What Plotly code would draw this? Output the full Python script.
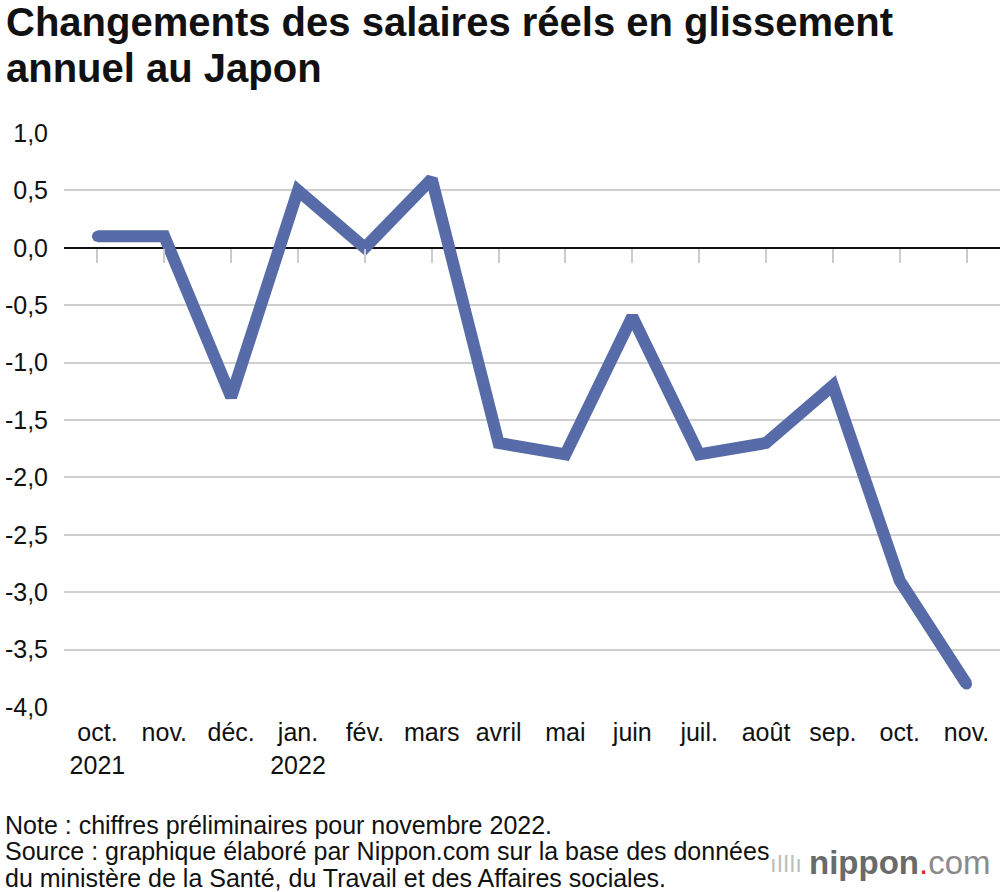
import plotly.graph_objects as go

months = ["oct.<br>2021", "nov.", "déc.", "jan.<br>2022", "fév.", "mars", "avril",
          "mai", "juin", "juil.", "août", "sep.", "oct.", "nov."]
values = [0.1, 0.1, -1.3, 0.5, 0.0, 0.6, -1.7, -1.8, -0.6, -1.8, -1.7, -1.2, -2.9, -3.8]
y_ticks = [1.0, 0.5, 0.0, -0.5, -1.0, -1.5, -2.0, -2.5, -3.0, -3.5, -4.0]
y_labels = ["1,0", "0,5", "0,0", "-0,5", "-1,0", "-1,5", "-2,0", "-2,5", "-3,0", "-3,5", "-4,0"]
title_lines = ["Changements des salaires réels en glissement", "annuel au Japon"]
note_lines = [
    "Note : chiffres préliminaires pour novembre 2022.",
    "Source : graphique élaboré par Nippon.com sur la base des données",
    "du ministère de la Santé, du Travail et des Affaires sociales.",
]

FONT = "Liberation Sans, Arial, Helvetica, sans-serif"
LINE_COLOR = "#566ba7"
W, H = 1000, 892
ML, MR, MT, MB = 64, 0, 133, 185
PW, PH = W - ML - MR, H - MT - MB


def px_x(x):
    return (x - ML) / PW


def px_y(y):
    return (H - MB - y) / PH


n = len(months)
cap_sizes = [11 if i in (0, n - 1) else 0 for i in range(n)]

fig = go.Figure()
# round end caps under the line
fig.add_trace(go.Scatter(
    x=list(range(n)), y=values, mode="markers",
    marker=dict(color=LINE_COLOR, size=cap_sizes, opacity=1, line=dict(width=0)),
    hoverinfo="skip", showlegend=False,
))
fig.add_trace(go.Scatter(
    x=list(range(n)), y=values, mode="lines",
    line=dict(color=LINE_COLOR, width=12, shape="linear"),
    hoverinfo="skip", showlegend=False,
))
fig.add_trace(go.Scatter(
    x=list(range(n)), y=[None] * n, xaxis="x2",
    mode="markers", showlegend=False, hoverinfo="skip",
))

annotations = []
for i, t in enumerate(title_lines):
    annotations.append(dict(
        text=f"<b>{t}</b>", xref="paper", yref="paper",
        x=px_x(4), y=px_y(22 + 46 * i), xanchor="left", yanchor="middle",
        showarrow=False, font=dict(size=40, color="#111111", family=FONT)))
for i, t in enumerate(note_lines):
    annotations.append(dict(
        text=t, xref="paper", yref="paper",
        x=px_x(3), y=px_y(825 + 26.5 * i), xanchor="left", yanchor="middle",
        showarrow=False, font=dict(size=25, color="#111111", family=FONT)))
annotations.append(dict(
    text="<b>nippon</b><span style='color:#e8262b'>.</span>"
         "<span style='color:#8a8a8a'>com</span>",
    xref="paper", yref="paper", x=px_x(992), y=px_y(862),
    xanchor="right", yanchor="middle", showarrow=False,
    font=dict(size=33, color="#6a6a6a", family=FONT)))
annotations.append(dict(
    text="ıǀǀǀı", xref="paper", yref="paper", x=px_x(786), y=px_y(864),
    xanchor="center", yanchor="middle", showarrow=False,
    font=dict(size=24, color="#bdbdbd", family=FONT)))

fig.update_layout(
    width=W, height=H,
    paper_bgcolor="white", plot_bgcolor="white",
    margin=dict(l=ML, r=MR, t=MT, b=MB),
    font=dict(family=FONT, color="#111111"),
    xaxis=dict(
        range=[-0.5, n - 0.5],
        tickmode="array", tickvals=list(range(n)), ticktext=months,
        showgrid=False, zeroline=False, showline=False, ticks="",
        tickfont=dict(size=25, color="#111111"),
        ticklabelstandoff=8,
    ),
    xaxis2=dict(
        overlaying="x", anchor="free", position=0.8, side="bottom",
        range=[-0.5, n - 0.5],
        tickmode="array", tickvals=list(range(n)),
        showticklabels=False, showgrid=False, zeroline=False, showline=False,
        ticks="outside", ticklen=14, tickwidth=2, tickcolor="#cccccc",
    ),
    yaxis=dict(
        range=[-4.0, 1.0],
        tickmode="array", tickvals=y_ticks, ticktext=y_labels,
        showgrid=True, gridcolor="#cfcfcf", gridwidth=2,
        zeroline=True, zerolinecolor="#111111", zerolinewidth=2,
        showline=False, ticks="",
        tickfont=dict(size=25, color="#111111"),
        ticklabelstandoff=15,
    ),
    annotations=annotations,
)

fig.write_html("out.html", config={"displayModeBar": False},
               post_script="document.body.style.margin='0';")
